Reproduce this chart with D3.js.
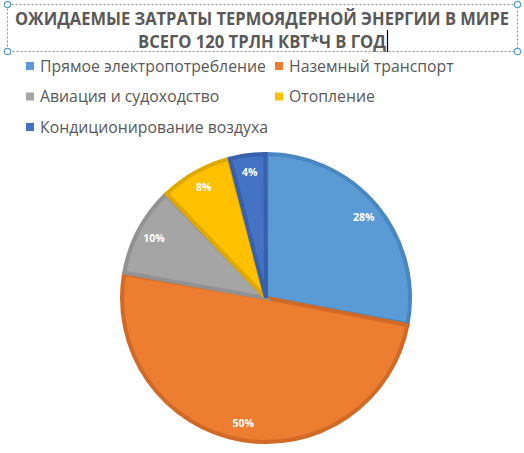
<!DOCTYPE html>
<html>
<head>
<meta charset="utf-8">
<script src="https://cdn.jsdelivr.net/npm/d3@7"></script>
<style>
  body { margin: 0; background: #fff; }
  svg { display: block; font-family: "Open Sans", "Noto Sans", sans-serif; }
</style>
</head>
<body>
<svg id="chart" width="524" height="453"></svg>
<script>
// the data
const titleLines = ["ОЖИДАЕМЫЕ ЗАТРАТЫ ТЕРМОЯДЕРНОЙ ЭНЕРГИИ В МИРЕ", "ВСЕГО 120 ТРЛН КВТ*Ч В ГОД"];
const titleWidths = [494, 248];
const categories = ["Прямое электропотребление", "Наземный транспорт", "Авиация и судоходство", "Отопление", "Кондиционирование воздуха"];
const shares = [28, 50, 10, 8, 4];
const fills = ["#5b9bd5", "#ed7d31", "#a5a5a5", "#ffc000", "#4472c4"];
const borders = ["#4a86bf", "#d06a26", "#929292", "#e0a800", "#3760ad"];

let svg = d3.select("#chart");

// title with selection frame
let title = svg.append("g");
title.append("rect")
  .attr("x", 7.5).attr("y", 4.5).attr("width", 510).attr("height", 47)
  .attr("fill", "none").attr("stroke", "#8c8c8c").attr("stroke-dasharray", "2,2");
[[7.5, 4.5], [517.5, 4.5], [7.5, 51.5], [517.5, 51.5]].forEach(p => {
  title.append("circle").attr("cx", p[0]).attr("cy", p[1]).attr("r", 3.2)
    .attr("fill", "#fff").attr("stroke", "#5b9bd5").attr("stroke-width", 1.2);
});
title.selectAll("text.t")
  .data(titleLines)
  .enter().append("text")
  .attr("class", "t")
  .attr("x", 262)
  .attr("y", (d, i) => 25 + i * 23)
  .attr("text-anchor", "middle")
  .attr("font-size", 17)
  .attr("font-weight", "bold")
  .attr("fill", "#595959")
  .attr("textLength", (d, i) => titleWidths[i])
  .attr("lengthAdjust", "spacingAndGlyphs")
  .text(d => d);
// text cursor after last line
title.append("line")
  .attr("x1", 262 + titleWidths[1] / 2 + 1.5).attr("x2", 262 + titleWidths[1] / 2 + 1.5)
  .attr("y1", 30).attr("y2", 52)
  .attr("stroke", "#000").attr("stroke-width", 1.2);

// legend
let legendX = d3.scaleOrdinal().domain([0, 1]).range([26, 275]);
let legend = svg.append("g").selectAll("g")
  .data(categories)
  .enter().append("g")
  .attr("transform", (d, i) => `translate(${legendX(i % 2)},${66 + Math.floor(i / 2) * 30.5})`);
legend.append("rect")
  .attr("x", 0).attr("y", -4).attr("width", 8).attr("height", 8)
  .attr("fill", (d, i) => fills[i]);
legend.append("text")
  .attr("x", 14).attr("y", 0).attr("dy", "0.35em")
  .attr("font-size", 15.8)
  .attr("fill", "#595959")
  .text(d => d);

// pie
const cx = 266, cy = 298, R = 146;
let pie = d3.pie().sort(null).value(d => d).padAngle(0.008);
let arcs = pie(shares);
let arc = d3.arc().innerRadius(0).outerRadius(R - 2);
let labelArc = d3.arc().innerRadius(127).outerRadius(127);

let g = svg.append("g").attr("transform", `translate(${cx},${cy})`);
g.selectAll("path")
  .data(arcs)
  .enter().append("path")
  .attr("d", arc)
  .attr("fill", (d, i) => fills[i])
  .attr("stroke", (d, i) => borders[i])
  .attr("stroke-width", 4)
  .attr("stroke-linejoin", "miter");

g.selectAll("text")
  .data(arcs)
  .enter().append("text")
  .attr("transform", d => `translate(${labelArc.centroid(d)})`)
  .attr("text-anchor", "middle")
  .attr("dy", "0.35em")
  .attr("font-size", 10.5)
  .attr("font-weight", "bold")
  .attr("fill", "#fff")
  .text(d => d.data + "%");
</script>
</body>
</html>
